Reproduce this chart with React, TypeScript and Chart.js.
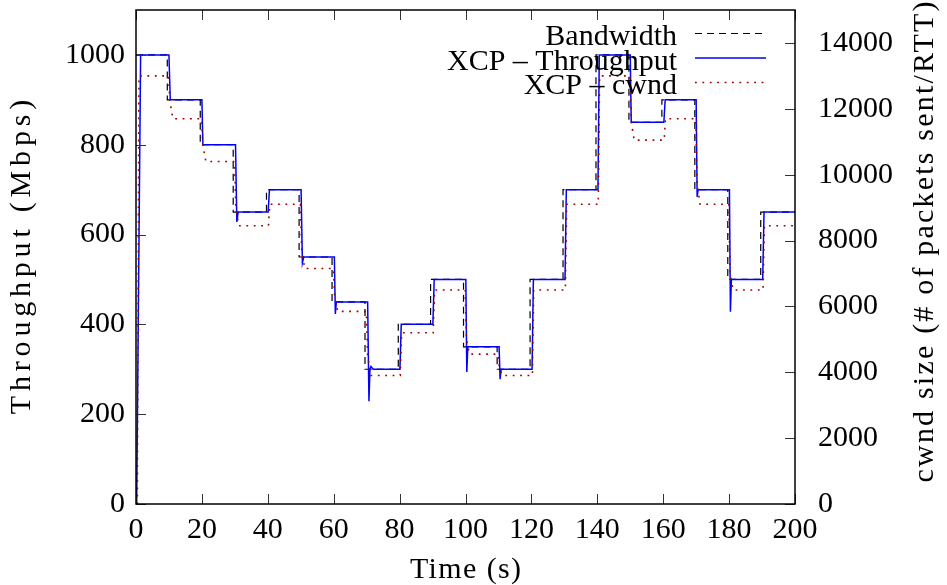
import React, { useEffect, useRef } from 'react';
import { Chart, registerables } from 'chart.js';

Chart.register(...registerables);

// ---- Data ----
// Link bandwidth: level holds from each time until the next one (step)
const bandwidthTimes = [0, 9.5, 19.5, 29.5, 39.6, 49.5, 59.5, 69.5, 79.6, 89.4, 99.4, 109.6, 119.6, 129.6, 139.6, 149.6, 159.6, 169.6, 179.6, 189.6, 200];
const bandwidthMbps = [1000, 900, 800, 650, 700, 550, 450, 300, 400, 500, 350, 300, 500, 700, 1000, 850, 900, 700, 500, 650, 650];

// XCP throughput (Mbps)
const throughputTimes = [
  0.2, 1.4, 10.0, 10.4, 20.0, 20.3, 30.2, 30.6, 31.0, 40.1, 40.5,
  50.1, 50.5, 50.9, 60.2, 60.5, 60.8, 70.3, 70.7, 71.0, 71.3, 72.0,
  80.1, 80.5, 90.1, 90.5, 100.1, 100.4, 100.7, 110.2, 110.5, 110.8,
  120.2, 120.6, 130.2, 130.6, 140.2, 140.6, 150.0, 150.3, 160.2, 160.6,
  170.0, 170.3, 170.6, 180.1, 180.4, 180.7, 190.2, 190.6, 200,
];
const throughputMbps = [
  0, 1000, 1000, 900, 900, 800, 800, 628, 650, 650, 700,
  700, 537, 550, 550, 423, 450, 450, 229, 300, 306, 300,
  300, 400, 400, 500, 500, 294, 350, 350, 278, 300,
  300, 500, 500, 700, 700, 1000, 1000, 850, 850, 900,
  900, 684, 700, 700, 428, 500, 500, 650, 650,
];

// XCP congestion window (# of packets sent / RTT)
const cwndTimes = [
  0.4, 0.9, 9.9, 10.3, 11.2, 19.9, 20.3, 21.2, 29.9, 30.3, 31.2,
  40.2, 40.6, 49.9, 50.3, 51.2, 59.9, 60.3, 61.2, 69.9, 70.3, 71.2,
  80.2, 80.6, 90.2, 90.6, 99.9, 100.3, 101.2, 109.9, 110.3, 111.2,
  120.3, 120.7, 130.3, 130.7, 140.3, 140.7, 149.9, 150.3, 151.2,
  160.3, 160.7, 169.9, 170.3, 171.2, 179.9, 180.3, 181.2, 190.3, 190.7, 200,
];
const cwndPackets = [
  0, 13000, 13000, 12200, 11700, 11700, 10900, 10400, 10400, 9000, 8450,
  8450, 9100, 9100, 7700, 7150, 7150, 6300, 5850, 5850, 4500, 3900,
  3900, 5200, 5200, 6500, 6500, 5000, 4550, 4550, 4100, 3900,
  3900, 6500, 6500, 9100, 9100, 13000, 13000, 11600, 11050,
  11050, 11700, 11700, 9700, 9100, 9100, 7000, 6500, 6500, 8450, 8450,
];

// Tick values
const xTicks = [0, 20, 40, 60, 80, 100, 120, 140, 160, 180, 200];
const yTicks = [0, 200, 400, 600, 800, 1000];
const y1Ticks = [0, 2000, 4000, 6000, 8000, 10000, 12000, 14000];

const xTitle = 'Time (s)';
const yTitle = 'Throughput (Mbps)';
const y1Title = 'cwnd size (# of packets sent/RTT)';

const FONT = '"Liberation Serif", "Times New Roman", serif';

const toPoints = (xs: number[], ys: number[]) => xs.map((x, i) => ({ x, y: ys[i] }));

const drawText = (ctx: any, text: string, x: number, y: number, rot: number, spacing: number) => {
  ctx.save();
  ctx.translate(x, y);
  ctx.rotate(rot);
  ctx.letterSpacing = `${spacing}px`;
  ctx.textAlign = 'left';
  ctx.textBaseline = 'middle';
  const w = ctx.measureText(text).width - spacing;
  ctx.fillText(text, -w / 2, 0);
  ctx.restore();
};

const framePlugin = {
  id: 'gnuFrame',
  afterDatasetsDraw(chart: any) {
    const { ctx, chartArea: a, scales } = chart;
    ctx.save();
    ctx.strokeStyle = '#333';
    ctx.lineWidth = 1;
    const tl = 10;
    ctx.beginPath();
    scales.x.ticks.forEach((t: any) => {
      const px = Math.round(scales.x.getPixelForValue(t.value)) + 0.5;
      ctx.moveTo(px, a.bottom); ctx.lineTo(px, a.bottom - tl);
      ctx.moveTo(px, a.top); ctx.lineTo(px, a.top + tl);
    });
    scales.y.ticks.forEach((t: any) => {
      const py = Math.round(scales.y.getPixelForValue(t.value)) + 0.5;
      ctx.moveTo(a.left, py); ctx.lineTo(a.left + tl, py);
    });
    scales.y1.ticks.forEach((t: any) => {
      const py = Math.round(scales.y1.getPixelForValue(t.value)) + 0.5;
      ctx.moveTo(a.right, py); ctx.lineTo(a.right - tl, py);
    });
    ctx.stroke();
    ctx.strokeStyle = '#000';
    ctx.lineWidth = 1.5;
    ctx.strokeRect(a.left, a.top, a.right - a.left, a.bottom - a.top);

    // axis titles
    ctx.fillStyle = '#000';
    ctx.font = `30px ${FONT}`;
    const cy = (a.top + a.bottom) / 2;
    drawText(ctx, xTitle, (a.left + a.right) / 2, chart.height - 15, 0, 1.4);
    drawText(ctx, yTitle, 22, cy, -Math.PI / 2, 4.8);
    drawText(ctx, y1Title, chart.width - 22, cy - 15, -Math.PI / 2, 2.2);
    ctx.restore();
  },
};

const legendPlugin = {
  id: 'gnuLegend',
  afterDatasetsDraw(chart: any) {
    const { ctx, chartArea: a } = chart;
    ctx.save();
    ctx.font = `30px ${FONT}`;
    ctx.textAlign = 'right';
    ctx.textBaseline = 'alphabetic';
    chart.data.datasets.forEach((ds: any, i: number) => {
      const y = a.top + 23 + i * 24.5;
      ctx.fillStyle = '#000';
      ctx.fillText(ds.label, a.right - 118, y + 12);
      ctx.beginPath();
      ctx.setLineDash(ds.borderDash || []);
      ctx.strokeStyle = ds.borderColor;
      ctx.lineWidth = ds.borderWidth;
      ctx.moveTo(a.right - 100, y + 0.5);
      ctx.lineTo(a.right - 29, y + 0.5);
      ctx.stroke();
    });
    ctx.restore();
  },
};

const setTicks = (vals: number[]) => (s: any) => { s.ticks = vals.map((v) => ({ value: v })); };

export default function App() {
  const ref = useRef<HTMLCanvasElement>(null);

  useEffect(() => {
    const tickFont = { family: FONT, size: 30 };
    const fmt = (v: any) => String(v);
    const chart = new Chart(ref.current!, {
      type: 'line',
      data: {
        datasets: [
          {
            label: 'Bandwidth',
            data: toPoints(bandwidthTimes, bandwidthMbps),
            yAxisID: 'y',
            stepped: 'before',
            borderColor: '#000',
            borderWidth: 1.2,
            borderDash: [7, 5],
            pointRadius: 0,
            order: 3,
          },
          {
            label: 'XCP – Throughput',
            data: toPoints(throughputTimes, throughputMbps),
            yAxisID: 'y',
            borderColor: '#0000ff',
            borderWidth: 1.5,
            pointRadius: 0,
            tension: 0,
            order: 2,
          },
          {
            label: 'XCP – cwnd',
            data: toPoints(cwndTimes, cwndPackets),
            yAxisID: 'y1',
            borderColor: '#a00000',
            borderWidth: 1.6,
            borderDash: [1.8, 5.6],
            pointRadius: 0,
            tension: 0,
            order: 1,
          },
        ] as any,
      },
      options: {
        animation: false,
        responsive: false,
        events: [],
        layout: { padding: { top: 10, left: 0, right: 0, bottom: 0 } },
        plugins: { legend: { display: false }, tooltip: { enabled: false } },
        scales: {
          x: {
            type: 'linear',
            min: 0,
            max: 200,
            grid: { display: false, drawTicks: false, tickLength: 0 },
            border: { display: false },
            ticks: { autoSkip: false, maxRotation: 0, color: '#000', font: tickFont, padding: 8, callback: fmt },
            afterBuildTicks: setTicks(xTicks),
            afterFit: (s: any) => { s.height = 81; s.paddingLeft = 0; s.paddingRight = 0; },
          },
          y: {
            type: 'linear',
            position: 'left',
            min: 0,
            max: 1100,
            grid: { display: false, drawTicks: false, tickLength: 0 },
            border: { display: false },
            ticks: { autoSkip: false, color: '#000', font: tickFont, padding: 11, callback: fmt },
            afterBuildTicks: setTicks(yTicks),
            afterFit: (s: any) => { s.width = 136; s.paddingTop = 0; s.paddingBottom = 0; },
          },
          y1: {
            type: 'linear',
            position: 'right',
            min: 0,
            max: 15000,
            grid: { display: false, drawTicks: false, tickLength: 0 },
            border: { display: false },
            ticks: { autoSkip: false, color: '#000', font: tickFont, padding: 23, callback: fmt },
            afterBuildTicks: setTicks(y1Ticks),
            afterFit: (s: any) => { s.width = 152; s.paddingTop = 0; s.paddingBottom = 0; },
          },
        },
      } as any,
      plugins: [framePlugin, legendPlugin],
    });
    return () => chart.destroy();
  }, []);

  return (
    <div style={{ position: 'fixed', left: 0, top: 0, width: 947, height: 585, background: '#fff' }}>
      <canvas ref={ref} width={947} height={585} style={{ display: 'block' }} />
    </div>
  );
}
